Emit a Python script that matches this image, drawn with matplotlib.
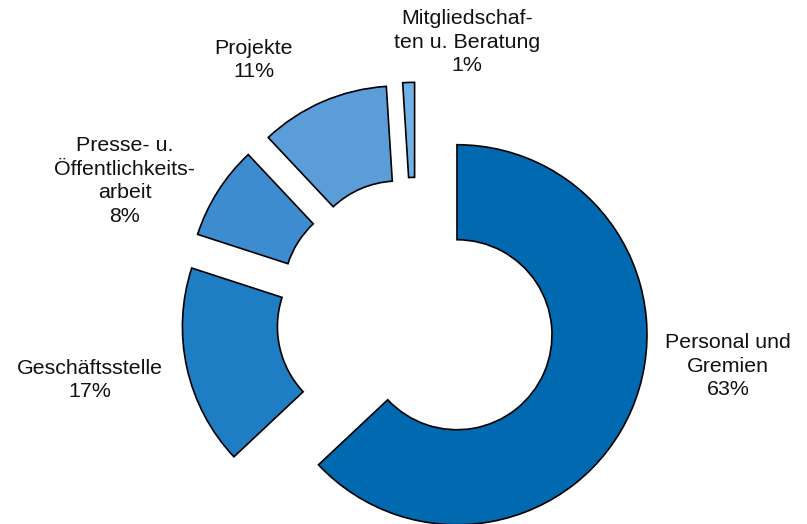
import matplotlib
matplotlib.use("Agg")
import matplotlib.pyplot as plt
import numpy as np

categories = ["Personal und\nGremien", "Geschäftsstelle", "Presse- u.\nÖffentlichkeits-\narbeit",
              "Projekte", "Mitgliedschaf-\nten u. Beratung"]
shares = [63, 17, 8, 11, 1]
colors = ["#0069AF", "#1E7DC3", "#3D8CCF", "#5B9DD8", "#72B1E6"]

# label anchor positions (pixels in the 807x524 figure)
label_px = [(728, 366), (90, 380), (125, 181), (254, 60), (467, 42)]

W, H = 807, 524
cx, cy, R = 416, 317, 190

fig = plt.figure(figsize=(W / 100, H / 100), dpi=100)
ax = fig.add_axes([0, 0, 1, 1])

ax.pie(shares, colors=colors, startangle=90, counterclock=False, radius=1,
       explode=[0.235] * len(shares),
       wedgeprops=dict(width=0.5, edgecolor="black", linewidth=1.2))

ax.set_xlim(-cx / R, (W - cx) / R)
ax.set_ylim(-(H - cy) / R, cy / R)
ax.set_aspect("equal", adjustable="datalim")
ax.axis("off")

for cat, val, (px, py) in zip(categories, shares, label_px):
    ax.text((px - cx) / R, (cy - py) / R, f"{cat}\n{val}%", ha="center", va="center",
            fontsize=15.4, family="Liberation Sans", linespacing=1.3, color="#111111")

fig.savefig("out.png", dpi=100)
